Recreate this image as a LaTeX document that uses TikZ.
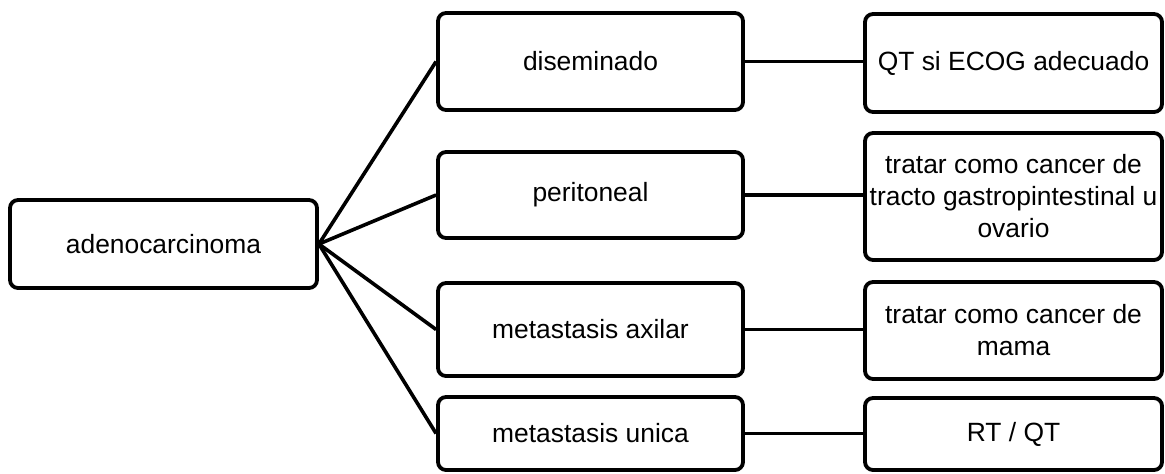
\documentclass[tikz,border=0pt]{standalone}
\usepackage{fontspec}
\setmainfont{Liberation Sans}
\usepackage{tikz}
\usepackage{xcolor}

\begin{document}
\begin{tikzpicture}[
    x=0.5pt, y=-0.5pt,
    % Estilo de las cajas para no repetir codigo
    caja/.style={draw, line width=1.9pt, rounded corners=4pt, inner sep=0pt,
      align=center, font=\fontsize{13.2}{16}\selectfont},
    enlace/.style={line width=1.8pt}
  ]
  \useasboundingbox (0,0) rectangle (1165,473);

  % 1. Nodo de partida
  \node[caja, minimum width=153.5pt, minimum height=44pt] (adeno) at (163.5,244) {adenocarcinoma};

  % 2. Nodos del medio (tipo de presentacion)
  \node[caja, minimum width=152.5pt, minimum height=48.5pt] (dis) at (590.5,61.5) {diseminado};
  \node[caja, minimum width=152.5pt, minimum height=43pt] (peri) at (590.5,195) {peritoneal};
  \node[caja, minimum width=152.5pt, minimum height=46.5pt] (axi) at (590.5,329.5) {metastasis axilar};
  \node[caja, minimum width=152.5pt, minimum height=36.5pt] (uni) at (590.5,433.5) {metastasis unica};

  % 3. Nodos de la derecha (tratamiento)
  \node[caja, minimum width=148.5pt, minimum height=49pt] (qt) at (1013.5,63) {QT si ECOG adecuado};
  \node[caja, minimum width=148.5pt, minimum height=63.5pt] (gi) at (1013.5,196.5)
    {tratar como cancer de\\tracto gastropintestinal u\\ovario};
  \node[caja, minimum width=148.5pt, minimum height=48.5pt] (mama) at (1013.5,330.5)
    {tratar como cancer de\\mama};
  \node[caja, minimum width=148.5pt, minimum height=36pt] (rt) at (1013.5,434) {RT / QT};

  % 4. Conexiones desde adenocarcinoma
  \draw[enlace] (adeno.east) -- (dis.west);
  \draw[enlace] (adeno.east) -- (peri.west);
  \draw[enlace] (adeno.east) -- (axi.west);
  \draw[enlace] (adeno.east) -- (uni.west);

  % Conexiones horizontales hacia el tratamiento
  \draw[enlace] (dis.east) -- (dis.east -| qt.west);
  \draw[enlace] (peri.east) -- (peri.east -| gi.west);
  \draw[enlace] (axi.east) -- (axi.east -| mama.west);
  \draw[enlace] (uni.east) -- (uni.east -| rt.west);

\end{tikzpicture}
\end{document}
